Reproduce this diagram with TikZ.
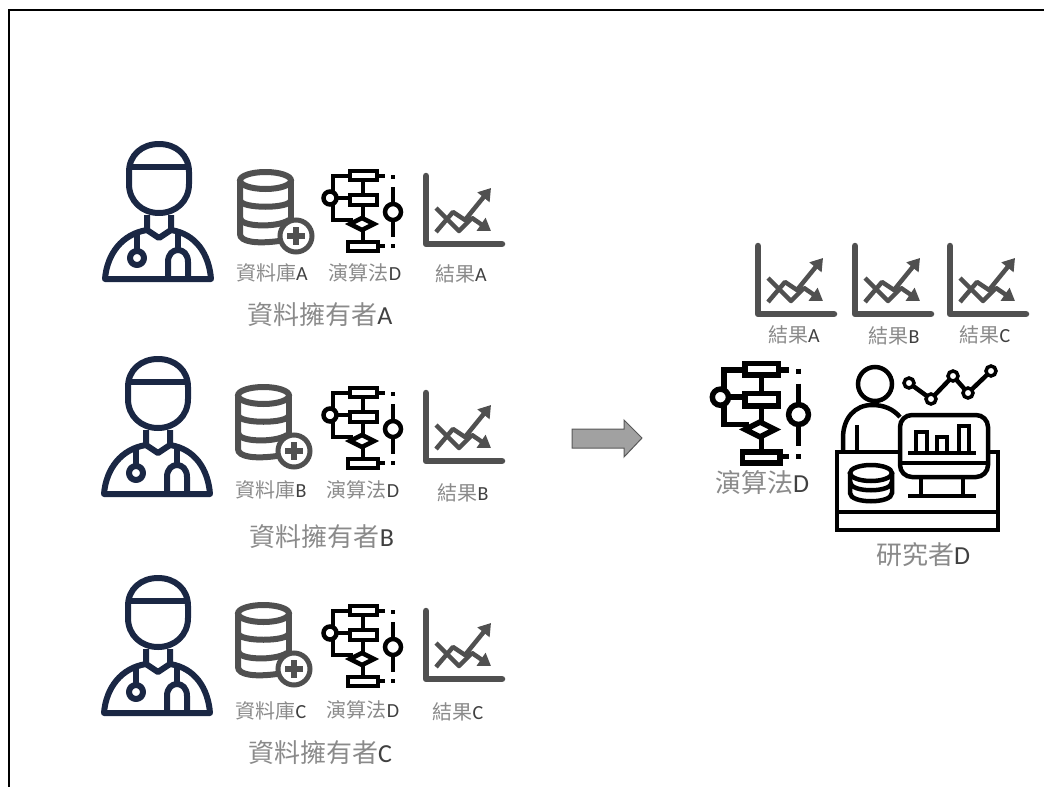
\documentclass[tikz,border=0pt]{standalone}
\usepackage{fontspec}
\usepackage{tikz}
\usetikzlibrary{arrows.meta}
\newfontfamily\cjk{Noto Sans CJK TC}
\newfontfamily\carlito{Carlito}
\definecolor{navy}{HTML}{1A2744}
\definecolor{icongray}{HTML}{505050}
\definecolor{cjkgray}{HTML}{8A8A8A}
\definecolor{latingray}{HTML}{404040}
\newcommand{\lat}[1]{{\carlito\color{latingray}#1}}

\tikzset{
    smalllabel/.style={text=cjkgray,font=\cjk\fontsize{20}{22}\selectfont,inner sep=0pt},
    ownerlabel/.style={text=cjkgray,font=\cjk\fontsize{26}{28}\selectfont,inner sep=0pt},
    biglabel/.style={text=cjkgray,font=\cjk\fontsize{26}{30}\selectfont,inner sep=0pt},
    doctor/.pic={
        \begin{scope}[draw=navy,line width=6pt,line join=round]
        % head and band
        \draw (27,30) .. controls (27,13) and (40,2) .. (57,2)
            .. controls (74,2) and (87,13) .. (87,30) -- (87,42)
            .. controls (87,59) and (74,71) .. (57,71)
            .. controls (40,71) and (27,59) .. (27,42) -- cycle;
        \draw (29,25) -- (85,25);
        % neck and body
        \draw (45,73) -- (45,88) -- (57,96) -- (69,88) -- (69,73);
        \draw (45,88) .. controls (20,92) and (5,112) .. (3,137) -- (109,137)
            .. controls (107,112) and (94,92) .. (69,88);
        % stethoscope
        \draw (35,89) -- (35,108);
        \draw (35,116) circle[radius=7];
        \draw (76,89) -- (76,108);
        \draw (66,137) -- (66,120) .. controls (66,104) and (86,104) .. (86,120) -- (86,137);
        \end{scope}
    },
    database/.pic={
        \begin{scope}[draw=icongray,line width=6pt]
        \draw (28.5,10.5) ellipse[x radius=25.5,y radius=8.5];
        \draw (3,10) -- (3,64) .. controls (3,72) and (20,74) .. (42,71);
        \draw (54,10) -- (54,50);
        \draw (3,30) .. controls (3,39) and (54,39) .. (54,30);
        \draw (3,48) .. controls (3,57) and (40,58) .. (52,50);
        \draw[fill=white,line width=5pt] (59,66) circle[radius=16];
        \draw[line width=6.5pt] (50,66) -- (68,66);
        \draw[line width=6.5pt] (59,57) -- (59,75);
        \end{scope}
    },
    flowicon/.pic={
        \begin{scope}[draw=black]
        \draw (30,3) rectangle (57,12);
        \draw (30,27) rectangle (57,37);
        \draw (30,56) -- (42,50) -- (54,56) -- (42,62) -- cycle;
        \draw (28,74) rectangle (58,83);
        \draw (10,30) circle[radius=6.5];
        \draw (30,8) -- (13,8) -- (13,24);
        \draw (17,30) -- (30,30);
        \draw (13,36) -- (13,52) -- (33,52);
        \draw (43,12) -- (43,27);
        \draw (43,37) -- (43,50);
        \draw (43,62) -- (43,74);
        \draw (57,8) -- (65,8);
        \draw (58,78) -- (65,78);
        % slider on the right
        \draw (73,7) -- (73,11);
        \draw (73,19) -- (73,69);
        \draw (73,76) -- (73,80);
        \draw[fill=white] (73,44) circle[radius=8];
        \end{scope}
    },
    charticon/.pic={
        \begin{scope}[draw=icongray,line join=round]
        \draw[line width=6.5pt,line cap=round] (3,3) -- (3,71) -- (79,71);
        \draw[line width=4.5pt,-{Triangle[length=12pt,width=15pt]},icongray]
            (13,59) -- (30,39) -- (42,47) -- (68,15);
        \draw[line width=4.5pt,-{Triangle[length=12pt,width=15pt]},icongray]
            (13,35) -- (36,58) -- (49,45) -- (68,58);
        \end{scope}
    },
}

\begin{document}
\begin{tikzpicture}[x=1pt,y=-1pt]
\useasboundingbox (0,0) rectangle (1044,787);

% frame
\coordinate (frameA) at (9,787);
\coordinate (frameB) at (9,10);
\coordinate (frameC) at (1044,10);
\draw[line width=2pt] (frameA) -- (frameB) -- (frameC);

% owner A
\pic at (102,142) {doctor};
\pic at (237,170) {database};
\pic[line width=4.5pt] at (320,168) {flowicon};
\pic at (423,173) {charticon};
\node [smalllabel] (dbA) at (272,273) {資料庫\lat{A}};
\node [smalllabel] (algoA) at (365,273) {演算法\lat{D}};
\node [smalllabel] (resA) at (461,274) {結果\lat{A}};
\node [ownerlabel] (ownerA) at (320,315) {資料擁有者\lat{A}};

% owner B
\pic at (101,357) {doctor};
\pic at (235,385) {database};
\pic[line width=4.5pt] at (320,385) {flowicon};
\pic at (423,390) {charticon};
\node [smalllabel] (dbB) at (271,490) {資料庫\lat{B}};
\node [smalllabel] (algoB) at (363,490) {演算法\lat{D}};
\node [smalllabel] (resB) at (463,493) {結果\lat{B}};
\node [ownerlabel] (ownerB) at (322,537) {資料擁有者\lat{B}};

% owner C
\pic at (101,576) {doctor};
\pic at (235,603) {database};
\pic[line width=4.5pt] at (320,603) {flowicon};
\pic at (423,608) {charticon};
\node [smalllabel] (dbC) at (271,711) {資料庫\lat{C}};
\node [smalllabel] (algoC) at (363,710) {演算法\lat{D}};
\node [smalllabel] (resC) at (458,712) {結果\lat{C}};
\node [ownerlabel] (ownerC) at (320,753) {資料擁有者\lat{C}};

% arrow
\draw[fill=black!37,draw=black!65,line width=1pt] (572,429) -- (624,429) -- (624,420)
    -- (642,438) -- (624,457) -- (624,448) -- (572,448) -- cycle;

% researcher side
\pic at (755,243) {charticon};
\pic at (852,243) {charticon};
\pic at (947,243) {charticon};
\node [smalllabel] (resR1) at (794,335) {結果\lat{A}};
\node [smalllabel] (resR2) at (894,336) {結果\lat{B}};
\node [smalllabel] (resR3) at (985,335) {結果\lat{C}};
\pic[scale=1.24,line width=5.5pt] at (708,360) {flowicon};
\node [biglabel] (algoR) at (762,483) {演算法\lat{D}};
\node [biglabel] (researcher) at (923,555) {研究者\lat{D}};

\begin{scope}[line width=4.5pt]
% person
\draw (875,384) circle[radius=17];
\draw (843,452) -- (843,438) .. controls (843,418) and (855,405) .. (872,405)
    .. controls (884,405) and (893,409) .. (900,417);
\draw (857,425) -- (857,452);
% desk
\draw (900,452) -- (837,452) -- (837,530) -- (998,530) -- (998,452) -- (988,452);
\draw (837,512) -- (998,512);
% monitor
\draw[rounded corners=12pt] (900,415) rectangle (988,477);
\draw (900,463) -- (988,463);
\draw (921,477) -- (921,496);
\draw (963,477) -- (963,496);
\draw (908,496) -- (976,496);
\draw (908,453) -- (976,453);
\draw (916,453) -- (916,432) -- (927,432) -- (927,453);
\draw (937,453) -- (937,437) -- (947,437) -- (947,453);
\draw (959,453) -- (959,426) -- (969,426) -- (969,453);
% small database
\draw (871,473) ellipse[x radius=21,y radius=8];
\draw (850,473) -- (850,493) .. controls (850,504) and (892,504) .. (892,493) -- (892,473);
\draw (850,482) .. controls (850,493) and (892,493) .. (892,482);
% line chart
\draw (909,383) -- (931,399) -- (953,376) -- (968,393) -- (991,371);
\foreach \px/\py in {909/383,931/399,953/376,968/393,991/371}
    \draw[fill=white,line width=3.5pt] (\px,\py) circle[radius=5];
\end{scope}

\end{tikzpicture}
\end{document}
